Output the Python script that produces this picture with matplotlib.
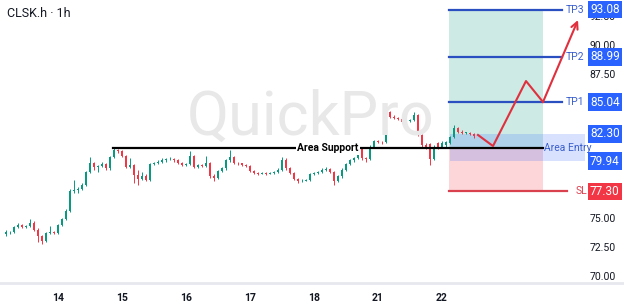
import matplotlib
matplotlib.use("Agg")
import matplotlib.pyplot as plt

# hourly candles, 16 bars per session
opens = [73.6, 73.75, 73.8, 74.2, 74.4, 74.2, 74.3, 74.6, 74.0, 73.4,
         73.0, 73.7, 73.8, 73.7, 74.4, 74.9, 75.6, 77.3, 77.4, 77.5,
         77.9, 79.0, 79.8, 79.4, 79.5, 79.7, 79.3, 80.3, 80.9, 80.8,
         80.4, 79.4, 79.6, 78.7, 78.4, 78.6, 78.3, 79.7, 79.8, 79.9,
         80.0, 80.1, 80.15, 80.0, 79.8, 79.6, 79.7, 80.4, 79.4, 79.6,
         79.5, 79.8, 78.6, 78.5, 79.1, 79.3, 80.0, 80.3, 79.8, 79.75,
         79.6, 79.5, 79.1, 78.9, 78.85, 78.9, 78.85, 78.9, 79.0, 79.2,
         80.0, 79.3, 78.9, 78.4, 78.2, 78.25, 78.3, 78.8, 78.9, 79.0,
         79.2, 79.25, 79.0, 78.2, 78.6, 79.2, 79.7, 80.0, 80.2, 81.1,
         80.2, 80.1, 81.2, 81.7, 81.6, 81.6, 84.2, 83.8, 83.7, 83.6,
         83.3, 83.4, 83.5, 83.9, 82.2, 81.3, 81.4, 80.1, 81.5, 81.2,
         81.3, 81.5, 82.0, 82.8, 82.5, 82.4, 82.4, 82.3]
closes = [73.75, 73.8, 74.2, 74.4, 74.2, 74.3, 74.6, 74.0, 73.4, 73.0,
          73.7, 73.8, 73.7, 74.4, 74.9, 75.6, 77.3, 77.4, 77.5, 77.9,
          79.0, 79.8, 79.4, 79.5, 79.7, 79.3, 80.3, 80.9, 80.8, 80.4,
          79.4, 79.6, 78.7, 78.4, 78.6, 78.3, 79.7, 79.8, 79.9, 80.0,
          80.1, 80.15, 80.0, 79.8, 79.6, 79.7, 80.4, 79.4, 79.6, 79.5,
          79.8, 78.6, 78.5, 79.1, 79.3, 80.0, 80.3, 79.8, 79.75, 79.6,
          79.5, 79.1, 78.9, 78.85, 78.9, 78.85, 78.9, 79.0, 79.2, 80.0,
          79.3, 78.9, 78.4, 78.2, 78.25, 78.3, 78.8, 78.9, 79.0, 79.2,
          79.25, 79.0, 78.2, 78.6, 79.2, 79.7, 80.0, 80.2, 81.1, 80.2,
          80.1, 81.2, 81.7, 81.6, 81.55, 84.2, 83.8, 83.7, 83.6, 83.3,
          83.4, 83.5, 83.9, 82.2, 81.3, 81.2, 80.1, 81.2, 81.2, 81.5,
          81.6, 82.0, 82.8, 82.5, 82.4, 82.45, 82.3, 82.1]
highs = [74.0, 73.9, 74.3, 74.6, 74.45, 74.4, 74.9, 74.7, 74.1, 73.5,
         73.8, 74.3, 73.9, 74.5, 75.0, 75.8, 77.5, 78.3, 77.7, 78.0,
         79.1, 80.3, 79.9, 79.6, 79.9, 79.8, 80.4, 81.1, 81.0, 80.9,
         80.5, 80.2, 79.7, 79.2, 79.0, 78.8, 79.8, 79.9, 80.0, 80.2,
         80.2, 80.3, 80.2, 80.1, 79.9, 79.8, 80.8, 80.5, 79.7, 79.7,
         80.4, 79.9, 78.8, 79.2, 79.4, 80.1, 80.9, 80.4, 79.9, 79.8,
         79.7, 79.6, 79.2, 79.0, 79.0, 79.0, 79.0, 79.1, 79.3, 80.3,
         80.2, 79.4, 79.0, 78.5, 78.35, 78.4, 78.9, 79.0, 79.1, 79.3,
         79.4, 79.3, 79.1, 78.7, 79.3, 79.8, 80.1, 80.3, 81.2, 81.2,
         80.3, 81.3, 81.8, 81.8, 81.7, 84.5, 84.3, 83.9, 83.8, 83.7,
         83.5, 83.6, 84.2, 84.0, 82.3, 81.5, 81.5, 81.3, 81.6, 81.7,
         81.7, 82.1, 83.1, 82.9, 82.6, 82.5, 82.5, 82.4]
lows = [73.4, 73.65, 73.7, 74.1, 74.1, 74.15, 74.2, 73.9, 72.9, 72.7,
        72.9, 73.6, 73.6, 73.6, 74.3, 74.8, 75.5, 77.2, 77.2, 77.4,
        77.8, 78.9, 79.2, 79.0, 79.4, 79.2, 79.2, 80.2, 80.6, 80.3,
        79.3, 79.3, 78.0, 77.9, 78.3, 78.2, 78.2, 79.6, 79.7, 79.8,
        79.9, 80.0, 79.9, 79.7, 79.5, 79.5, 79.6, 79.3, 79.3, 79.4,
        79.4, 78.5, 78.2, 78.4, 79.0, 79.2, 79.9, 79.7, 79.6, 79.5,
        79.4, 79.0, 78.8, 78.7, 78.8, 78.7, 78.8, 78.8, 78.9, 79.1,
        79.2, 78.8, 78.3, 78.0, 78.1, 78.2, 78.2, 78.7, 78.8, 78.9,
        79.1, 78.9, 77.9, 78.1, 78.5, 79.1, 79.6, 79.9, 80.1, 80.0,
        79.9, 80.0, 81.1, 81.5, 81.4, 81.5, 83.7, 83.6, 83.5, 83.2,
        83.2, 83.3, 83.4, 82.1, 81.2, 81.0, 79.6, 80.0, 81.0, 81.1,
        81.2, 81.4, 81.9, 82.4, 82.3, 82.3, 82.2, 81.9]

day_ticks = [13, 29, 45, 61, 77, 93, 109]
day_labels = ["14", "15", "16", "17", "18", "21", "22"]
# labels that are not hidden behind the price tags
price_ticks = [70.0, 72.5, 75.0, 87.5, 90.0, 92.5]

support = 81.05
entry_top, entry_bot = 82.30, 79.94
tp_levels = [93.08, 88.99, 85.04]
tp_names = ["TP3", "TP2", "TP1"]
stop = 77.30
path_x = [118, 121.75, 130, 134.25, 143]
path_y = [82.2, 81.24, 86.88, 85.06, 92.17]

up_col = "#089981"
dn_col = "#f23645"
blue = "#2962ff"

fig = plt.figure(figsize=(6.24, 3.06), dpi=100)
ax = fig.add_axes([0, 23 / 306, 1, 283 / 306])
ax.set_xlim(-1.5, 154.5)
ax.set_ylim(69.36, 93.91)

# watermark + title
fig.text(0.497, 0.615, "QuickPro", fontsize=44, color="#e8e8e8",
         family="Roboto", ha="center", va="center", zorder=0)
fig.text(0.011, 0.957, "CLSK.h · 1h", fontsize=9, color="#131722",
         family="Roboto", ha="left", va="center")

# candles
xs = list(range(len(opens)))
cols = [up_col if c >= o else dn_col for o, c in zip(opens, closes)]
ax.vlines(xs, lows, highs, colors=cols, linewidth=0.7, zorder=3)
bottoms = [min(o, c) for o, c in zip(opens, closes)]
heights = [max(abs(c - o), 0.05) for o, c in zip(opens, closes)]
ax.bar(xs, heights, bottom=bottoms, width=0.7, color=cols, zorder=4)

# position zones
x0, x1 = 110.75, 134.25
ax.fill_between([x0, x1], support, tp_levels[0], color=up_col, alpha=0.2, lw=0, zorder=1)
ax.fill_between([x0, x1], stop, support, color=dn_col, alpha=0.2, lw=0, zorder=1)
ax.fill_between([111, 144.75], entry_bot, entry_top, color=blue, alpha=0.18, lw=0, zorder=2)

# support line
ax.plot([26.75, 134.25], [support, support], color="black", lw=1.6, zorder=5)
ax.text(80.5, support, "Area Support", fontsize=7.5, fontweight="bold", family="Roboto",
        ha="center", va="center", zorder=6,
        bbox=dict(boxstyle="square,pad=0.15", fc="white", ec="none"))
ax.text(134.5, support, "Area Entry", fontsize=7.5, color="#3a5fcd", family="Roboto",
        ha="left", va="center", zorder=6)

# targets and stop
for lvl, name in zip(tp_levels, tp_names):
    ax.plot([x0, 139], [lvl, lvl], color="#2a4fc0", lw=1.6, zorder=5)
    ax.text(140, lvl, name, fontsize=7.5, color="#3a5fcd", family="Roboto",
            ha="left", va="center", zorder=6)
ax.plot([x0, 140.25], [stop, stop], color="#d9414f", lw=1.6, zorder=5)
ax.text(142.3, stop, "SL", fontsize=7.5, color="#e04050", family="Roboto",
        ha="left", va="center", zorder=6)

for lvl in tp_levels + [entry_top, entry_bot]:
    ax.text(149.7, lvl, f"{lvl:.2f}", fontsize=8.5, color="white", family="Roboto",
            ha="center", va="center", zorder=7,
            bbox=dict(boxstyle="square,pad=0.2", fc=blue, ec="none"))
ax.text(149.7, stop, f"{stop:.2f}", fontsize=8.5, color="white", family="Roboto",
        ha="center", va="center", zorder=7,
        bbox=dict(boxstyle="square,pad=0.2", fc=dn_col, ec="none"))

# projected path
ax.plot(path_x[:-1], path_y[:-1], color="#e0303e", lw=1.5, zorder=6)
ax.annotate("", xy=(path_x[-1], path_y[-1]), xytext=(path_x[-2], path_y[-2]),
            arrowprops=dict(arrowstyle="->", color="#e0303e", lw=1.5,
                            mutation_scale=12, shrinkA=0, shrinkB=0), zorder=6)

# axes styling
ax.set_xticks(day_ticks)
ax.set_xticklabels(day_labels, fontsize=7.5, fontweight="bold", color="#131722", family="Roboto")
ax.tick_params(axis="x", length=0, pad=7)
ax.yaxis.tick_right()
ax.set_yticks(price_ticks)
ax.set_yticklabels([f"{p:.2f}" for p in price_ticks], fontsize=7.5, color="#131722", family="Roboto")
ax.tick_params(axis="y", length=0, pad=-25)
for s in ["top", "left", "right"]:
    ax.spines[s].set_visible(False)
ax.spines["bottom"].set_color("#e6e8ee")
ax.spines["bottom"].set_linewidth(2)

fig.savefig("out.png", dpi=100, facecolor="white")
